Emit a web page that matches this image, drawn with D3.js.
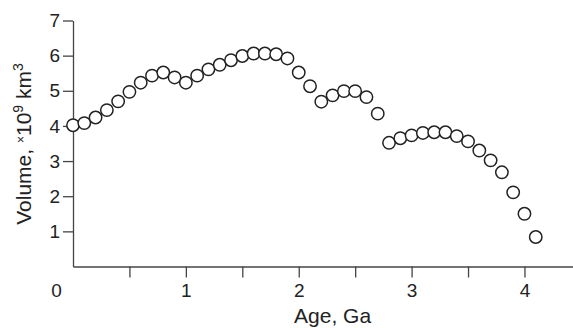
<!DOCTYPE html>
<html>
<head>
<meta charset="utf-8">
<script src="https://cdn.jsdelivr.net/npm/d3@7"></script>
<style>
  body { margin: 0; background: #fff; }
  svg { display: block; font-family: "Liberation Sans", Arial, sans-serif; }
  .axis path, .axis line { stroke: #444; stroke-width: 1.3; }
  .axis text { fill: #222; font-size: 19px; }
  .dot { fill: #fff; stroke: #222; stroke-width: 1.5; }
</style>
</head>
<body>
<div id="canvas"></div>
<script>
// data: age (Ga) vs volume (x10^9 km^3)
var ages = [0, 0.1, 0.2, 0.3, 0.4, 0.5, 0.6, 0.7, 0.8, 0.9,
            1.0, 1.1, 1.2, 1.3, 1.4, 1.5, 1.6, 1.7, 1.8, 1.9,
            2.0, 2.1, 2.2, 2.3, 2.4, 2.5, 2.6, 2.7, 2.8, 2.9,
            3.0, 3.1, 3.2, 3.3, 3.4, 3.5, 3.6, 3.7, 3.8, 3.9,
            4.0, 4.1];
var volumes = [4.02, 4.08, 4.24, 4.45, 4.70, 4.97, 5.23, 5.43, 5.52, 5.38,
               5.23, 5.43, 5.61, 5.74, 5.87, 5.99, 6.06, 6.06, 6.04, 5.92,
               5.52, 5.13, 4.69, 4.87, 4.99, 4.99, 4.82, 4.35, 3.52, 3.65,
               3.73, 3.80, 3.82, 3.82, 3.71, 3.56, 3.30, 3.02, 2.68, 2.11,
               1.50, 0.84];
var yTicks = [1, 2, 3, 4, 5, 6, 7];
var xTicks = [0, 0.5, 1, 1.5, 2, 2.5, 3, 3.5, 4];

var W = 573, H = 328;
var m = {t:20.5, r:0, b:61.5, l:73};

var svg = d3.select('#canvas')
    .append('svg')
    .attr('width', W)
    .attr('height', H);

var x = d3.scaleLinear().domain([0, 4.43]).range([m.l, W - m.r]);
var y = d3.scaleLinear().domain([0, 7]).range([H - m.b, m.t]);

// y axis
var axisY = d3.axisLeft(y)
    .tickValues(yTicks)
    .tickFormat(d3.format('d'))
    .tickSize(10)
    .tickSizeOuter(0)
    .tickPadding(3);
svg.append('g').attr('class', 'axis')
    .attr('transform', 'translate(' + m.l + ',0)')
    .call(axisY);

// x axis, integer labels only, the 0 label is pushed left of the origin
var axisX = d3.axisBottom(x)
    .tickValues(xTicks)
    .tickSize(11)
    .tickSizeOuter(0)
    .tickPadding(6)
    .tickFormat(function(d){ return d % 1 === 0 ? d : ''; });
var gx = svg.append('g').attr('class', 'axis')
    .attr('transform', 'translate(0,' + (H - m.b) + ')')
    .call(axisX);
gx.selectAll('.tick').filter(function(d){ return d === 0; })
    .select('line').remove();
gx.selectAll('.tick').filter(function(d){ return d === 0; })
    .select('text').attr('x', -17);

// titles
svg.append('text')
    .attr('x', x(2.3))
    .attr('y', 323)
    .attr('text-anchor', 'middle')
    .style('font-size', '21px')
    .style('fill', '#222')
    .text('Age, Ga');

var yl = svg.append('text')
    .attr('transform', 'translate(31,' + 144 + ') rotate(-90)')
    .attr('text-anchor', 'middle')
    .style('font-size', '21px')
    .style('fill', '#222');
yl.append('tspan').text('Volume, ');
yl.append('tspan').attr('dy', -6).style('font-size', '12px').text('\u00d7');
yl.append('tspan').attr('dy', 6).text('10');
yl.append('tspan').attr('dy', -8).style('font-size', '14px').text('9');
yl.append('tspan').attr('dy', 8).text(' km');
yl.append('tspan').attr('dy', -8).style('font-size', '14px').text('3');

// points
svg.selectAll('.dot')
    .data(ages)
    .enter()
    .append('circle')
    .attr('class', 'dot')
    .attr('cx', function(d){ return x(d); })
    .attr('cy', function(d, i){ return y(volumes[i]); })
    .attr('r', 6.2);
</script>
</body>
</html>
